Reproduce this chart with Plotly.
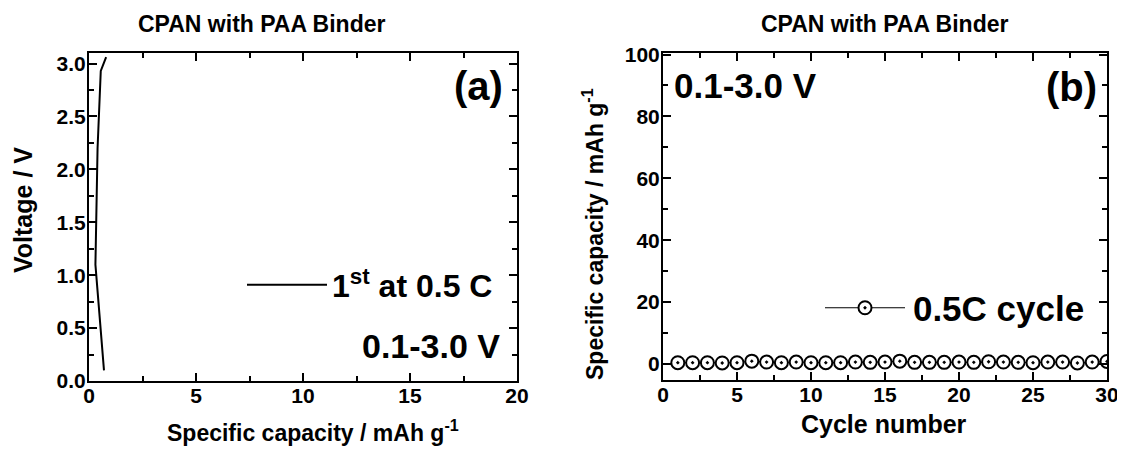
import plotly.graph_objects as go

# ---- data ----
capacity_a = [0.80, 0.55, 0.40, 0.30, 0.30, 0.70]
voltage_a = [3.06, 2.93, 2.20, 1.30, 1.10, 0.10]

cycles_b = list(range(1, 31))
capacity_b = [0.4, 0.4, 0.4, 0.3, 0.4, 0.9, 0.6, 0.4, 0.6, 0.4,
              0.4, 0.4, 0.6, 0.5, 0.6, 0.9, 0.5, 0.5, 0.5, 0.6,
              0.5, 0.7, 0.6, 0.5, 0.4, 0.6, 0.6, 0.3, 0.6, 0.8]

xa_ticks = [0, 5, 10, 15, 20]
ya_ticks = [0.0, 0.5, 1.0, 1.5, 2.0, 2.5, 3.0]
xb_ticks = [0, 5, 10, 15, 20, 25, 30]
yb_ticks = [0, 20, 40, 60, 80, 100]

title_text = "CPAN with PAA Binder"
FONT = "Liberation Sans, Arial, sans-serif"

# The page body has a default 8px margin; size the figure so it fills the window.
OFF = 8
W, H = 1125 - OFF, 452 - OFF


def px(x):
    return (x - OFF) / W


def py(y):
    return 1 - (y - OFF) / H


def bold_labels(vals, fmt):
    return ["<b>" + fmt.format(v) + "</b>" for v in vals]


fig = go.Figure()
fig.add_trace(go.Scatter(
    x=capacity_a, y=voltage_a, mode="lines",
    line=dict(color="black", width=2),
    name="1<sup>st</sup> at 0.5 C", xaxis="x", yaxis="y", legend="legend"))
fig.add_trace(go.Scatter(
    x=cycles_b, y=capacity_b, mode="lines+markers",
    line=dict(color="black", width=1),
    marker=dict(symbol="circle-dot", size=13, color="white",
                line=dict(color="black", width=2)),
    name="\u200a0.5C cycle", xaxis="x2", yaxis="y2", legend="legend2"))

minor_common = dict(ticks="inside", ticklen=5, tickwidth=2, tickcolor="black")
axis_common = dict(
    showline=True, linecolor="black", linewidth=2, mirror="ticks",
    ticks="inside", ticklen=8, tickwidth=2, tickcolor="black",
    showgrid=False, zeroline=False,
    tickfont=dict(family=FONT, size=21, color="black", weight="bold"),
)

fig.update_layout(
    width=W, height=H,
    margin=dict(l=0, r=0, t=0, b=0, autoexpand=False),
    paper_bgcolor="white", plot_bgcolor="white",
    showlegend=True,
    xaxis=dict(domain=[px(89), px(517)], range=[0, 20],
               tickvals=xa_ticks, ticktext=bold_labels(xa_ticks, "{:d}"),
               minor=dict(dtick=2.5, **minor_common), ticklabelstandoff=-5,
               anchor="y", automargin=False, **axis_common),
    yaxis=dict(domain=[py(381), py(53)], range=[0, 3.1],
               tickvals=ya_ticks, ticktext=bold_labels(ya_ticks, "{:.1f}"),
               minor=dict(dtick=0.25, **minor_common), ticklabelstandoff=-3,
               anchor="x", automargin=False, **axis_common),
    xaxis2=dict(domain=[px(663), px(1107)], range=[0, 30],
                tickvals=xb_ticks, ticktext=bold_labels(xb_ticks, "{:d}"),
                minor=dict(dtick=2.5, **minor_common), ticklabelstandoff=-5,
                anchor="y2", automargin=False, **axis_common),
    yaxis2=dict(domain=[py(380), py(53)], range=[-5.2, 100.5],
                tickvals=yb_ticks, ticktext=bold_labels(yb_ticks, "{:d}"),
                minor=dict(tick0=0, dtick=10, **minor_common), ticklabelstandoff=-3,
                anchor="x2", automargin=False, **axis_common),
    legend=dict(x=px(242), y=py(285), xanchor="left", yanchor="middle",
                bgcolor="rgba(0,0,0,0)", itemwidth=80,
                font=dict(family=FONT, size=32, color="black", weight="bold")),
    legend2=dict(x=px(820), y=py(308), xanchor="left", yanchor="middle",
                 bgcolor="rgba(0,0,0,0)", itemwidth=80,
                 font=dict(family=FONT, size=35, color="black", weight="bold")),
)

ann_font = lambda s: dict(family=FONT, size=s, color="black", weight="bold")
annotations = [
    dict(text=title_text, x=262, y=24, font=ann_font(23)),
    dict(text=title_text, x=885, y=24, font=ann_font(23)),
    dict(text="(a)", x=478, y=86, font=ann_font(40)),
    dict(text="0.1-3.0 V", x=431, y=346, font=ann_font(34)),
    dict(text="0.1-3.0 V", x=745, y=86, font=ann_font(35)),
    dict(text="(b)", x=1071, y=87, font=ann_font(40)),
    dict(text="Specific capacity / mAh g<sup>-1</sup>", x=313, y=431, font=ann_font(23)),
    dict(text="Cycle number", x=884, y=424, font=ann_font(25)),
    dict(text="Voltage / V", x=23, y=210, font=ann_font(25), textangle=-90),
    dict(text="Specific capacity / mAh g<sup>-1</sup>", x=593, y=234, font=ann_font(23), textangle=-90),
]
for a in annotations:
    a["x"] = px(a["x"])
    a["y"] = py(a["y"])
    a.update(xref="paper", yref="paper", showarrow=False, xanchor="center", yanchor="middle")
    fig.add_annotation(**a)

fig.write_html("out.html")
